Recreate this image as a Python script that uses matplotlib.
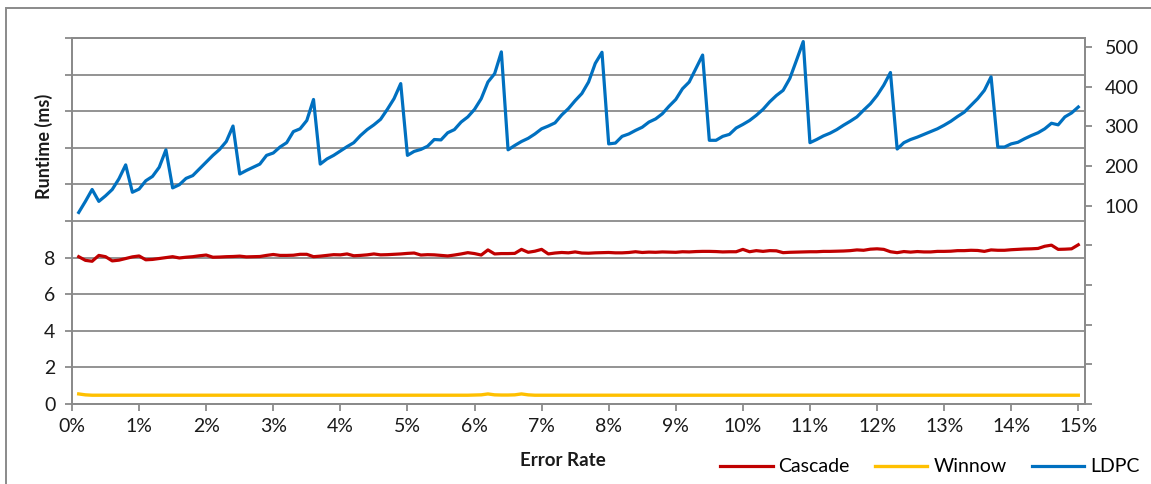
"""
Runtime vs error rate for three reconciliation protocols
(Cascade / Winnow on the left axis, LDPC on the right axis).
"""

import numpy as np
import matplotlib
matplotlib.use("Agg")
import matplotlib.pyplot as plt
from matplotlib.patches import Rectangle
from matplotlib.ticker import FixedLocator, FuncFormatter


# -------------------------------------------------
# Data (error rate in 0.1 % steps, 150 points)
# -------------------------------------------------

error_rate = np.arange(1, 151) / 1000.0

cascade_ms = [
    8.05, 7.85, 7.80, 8.12, 8.05, 7.82, 7.86, 7.95, 8.04, 8.09,
    7.88, 7.90, 7.95, 8.00, 8.05, 7.98, 8.02, 8.05, 8.10, 8.14,
    8.02, 8.03, 8.05, 8.06, 8.08, 8.04, 8.05, 8.06, 8.12, 8.17,
    8.12, 8.12, 8.13, 8.18, 8.18, 8.05, 8.08, 8.12, 8.16, 8.15,
    8.20, 8.10, 8.12, 8.15, 8.20, 8.15, 8.16, 8.18, 8.20, 8.23,
    8.25, 8.14, 8.16, 8.15, 8.12, 8.09, 8.14, 8.20, 8.27, 8.22,
    8.14, 8.42, 8.20, 8.22, 8.22, 8.23, 8.45, 8.29, 8.35, 8.45,
    8.20, 8.25, 8.28, 8.26, 8.31, 8.25, 8.24, 8.26, 8.27, 8.28,
    8.26, 8.26, 8.28, 8.32, 8.28, 8.30, 8.29, 8.31, 8.30, 8.29,
    8.32, 8.31, 8.33, 8.34, 8.34, 8.33, 8.31, 8.32, 8.32, 8.45,
    8.32, 8.38, 8.34, 8.38, 8.37, 8.27, 8.29, 8.30, 8.31, 8.32,
    8.32, 8.34, 8.34, 8.35, 8.36, 8.38, 8.42, 8.40, 8.46, 8.48,
    8.45, 8.32, 8.27, 8.33, 8.30, 8.33, 8.31, 8.31, 8.34, 8.34,
    8.35, 8.38, 8.38, 8.40, 8.39, 8.34, 8.42, 8.40, 8.40, 8.43,
    8.45, 8.47, 8.48, 8.50, 8.62, 8.68, 8.45, 8.46, 8.48, 8.70,
]

winnow_ms = [
    0.55, 0.50, 0.48, 0.48, 0.48, 0.48, 0.48, 0.48, 0.48, 0.48,
    0.48, 0.48, 0.48, 0.48, 0.48, 0.48, 0.48, 0.48, 0.48, 0.48,
    0.48, 0.48, 0.48, 0.48, 0.48, 0.48, 0.48, 0.48, 0.48, 0.48,
    0.48, 0.48, 0.48, 0.48, 0.48, 0.48, 0.48, 0.48, 0.48, 0.48,
    0.48, 0.48, 0.48, 0.48, 0.48, 0.48, 0.48, 0.48, 0.48, 0.48,
    0.48, 0.48, 0.48, 0.48, 0.48, 0.48, 0.48, 0.48, 0.48, 0.49,
    0.50, 0.55, 0.50, 0.49, 0.49, 0.50, 0.55, 0.50, 0.48, 0.48,
    0.48, 0.48, 0.48, 0.48, 0.48, 0.48, 0.48, 0.48, 0.48, 0.48,
    0.48, 0.48, 0.48, 0.48, 0.48, 0.48, 0.48, 0.48, 0.48, 0.48,
    0.48, 0.48, 0.48, 0.48, 0.48, 0.48, 0.48, 0.48, 0.48, 0.48,
    0.48, 0.48, 0.48, 0.48, 0.48, 0.48, 0.48, 0.48, 0.48, 0.48,
    0.48, 0.48, 0.48, 0.48, 0.48, 0.48, 0.48, 0.48, 0.48, 0.48,
    0.48, 0.48, 0.48, 0.48, 0.48, 0.48, 0.48, 0.48, 0.48, 0.48,
    0.48, 0.48, 0.48, 0.48, 0.48, 0.48, 0.48, 0.48, 0.48, 0.48,
    0.48, 0.48, 0.48, 0.48, 0.48, 0.48, 0.48, 0.48, 0.48, 0.48,
]

ldpc_ms = [
    83, 111, 141, 111, 125, 141, 168, 203, 134, 142,
    163, 174, 197, 241, 145, 153, 169, 176, 193, 210,
    227, 242, 262, 301, 180, 189, 197, 205, 227, 233,
    248, 259, 287, 294, 315, 368, 205, 218, 227, 238,
    249, 259, 277, 292, 304, 318, 343, 370, 408, 227,
    237, 242, 250, 267, 266, 284, 292, 311, 324, 343,
    370, 412, 433, 488, 241, 252, 262, 270, 281, 294,
    301, 309, 329, 345, 365, 383, 412, 459, 487, 256,
    258, 275, 281, 290, 298, 311, 319, 332, 351, 368,
    395, 412, 446, 480, 265, 265, 275, 280, 296, 305,
    315, 328, 343, 362, 378, 391, 421, 467, 514, 259,
    267, 276, 283, 292, 303, 313, 324, 341, 357, 378,
    404, 436, 243, 259, 267, 273, 280, 287, 294, 303,
    313, 325, 336, 353, 370, 391, 425, 248, 248, 256,
    260, 269, 277, 284, 294, 308, 304, 324, 334, 349,
]

left_ticks = np.arange(0, 21, 2)
right_ticks = np.arange(-400, 501, 100)
pct_ticks = np.arange(0, 16) / 100.0


# -------------------------------------------------
# Style
# -------------------------------------------------

GRID = "#8a8a8a"
TXT = "#1a1a1a"
plt.rcParams["font.family"] = ["Lato", "DejaVu Sans"]
plt.rcParams["font.size"] = 14


def main():
    fig = plt.figure(figsize=(11.51, 4.84), dpi=100)

    # outer chart frame
    fig.patches.append(Rectangle((6 / 1151, -0.05), 1.2, 1.05 - 8 / 484,
                                 transform=fig.transFigure, fill=False,
                                 edgecolor=GRID, lw=1.4))

    ax = fig.add_axes([72 / 1151, 80 / 484, 1013 / 1151, 366 / 484])
    ax2 = ax.twinx()

    ax.plot(error_rate, cascade_ms, color="#C00000", lw=2.3, label="Cascade")
    ax.plot(error_rate, winnow_ms, color="#FFC000", lw=2.4, label="Winnow")
    ax2.plot(error_rate, ldpc_ms, color="#0070C0", lw=2.3, label="LDPC")

    ax.set_xlim(0, 0.151)
    ax.set_ylim(0, 20)
    ax2.set_ylim(-400, 523)

    ax.xaxis.set_major_locator(FixedLocator(pct_ticks))
    ax.xaxis.set_major_formatter(FuncFormatter(lambda v, p: f"{v * 100:.0f}%"))
    ax.yaxis.set_major_locator(FixedLocator(left_ticks))
    ax.yaxis.set_major_formatter(FuncFormatter(lambda v, p: f"{v:.0f}" if v <= 8 else ""))
    ax2.yaxis.set_major_locator(FixedLocator(right_ticks))
    ax2.yaxis.set_major_formatter(FuncFormatter(lambda v, p: f"{v:.0f}" if v >= 100 else ""))

    ax.grid(axis="y", color=GRID, lw=1.3)
    ax.set_axisbelow(True)

    for a in (ax, ax2):
        for s in a.spines.values():
            s.set_color(GRID)
            s.set_linewidth(1.3)
    ax.tick_params(axis="both", colors=GRID, labelcolor=TXT, length=5, width=1.3,
                   direction="out", labelsize=14)
    ax.tick_params(axis="x", pad=5)
    ax.tick_params(axis="y", pad=7)
    ax2.tick_params(axis="y", colors=GRID, labelcolor=TXT, length=5, width=1.3,
                    direction="out", labelsize=14, pad=9)

    fig.text(44 / 1151, 1 - 146 / 484, "Runtime (ms)", rotation=90, ha="center",
             va="center", fontsize=13, fontweight="bold", color=TXT)
    fig.text(563 / 1151, 1 - 461 / 484, "Error Rate", ha="center", va="center",
             fontsize=13.5, fontweight="bold", color=TXT)

    h1, l1 = ax.get_legend_handles_labels()
    h2, l2 = ax2.get_legend_handles_labels()
    fig.legend(h1 + h2, l1 + l2, loc="center left", ncol=3,
               bbox_to_anchor=(720 / 1151, 1 - 467 / 484), frameon=False,
               borderpad=0, borderaxespad=0, handlelength=2.7,
               handletextpad=0.3, columnspacing=1.3, fontsize=14)

    fig.savefig("out.png", dpi=100)


if __name__ == "__main__":
    main()
